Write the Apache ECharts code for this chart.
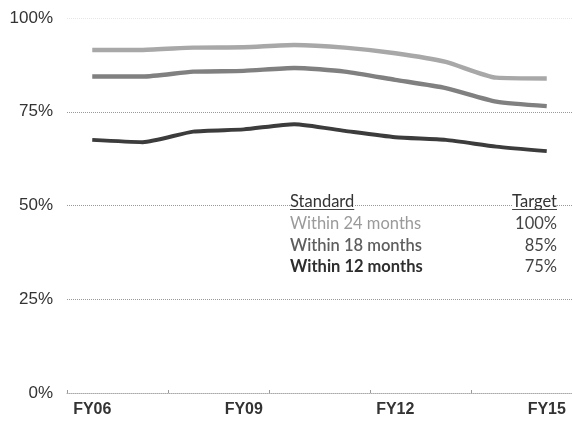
<!DOCTYPE html>
<html>
<head>
<meta charset="utf-8">
<script src="https://cdn.jsdelivr.net/npm/echarts@6/dist/echarts.min.js"></script>
<style>html,body{margin:0;padding:0;background:#fff}#c{width:572px;height:425px}</style>
</head>
<body>
<div id="c"></div>
<script>
const categories = ['FY06','FY07','FY08','FY09','FY10','FY11','FY12','FY13','FY14','FY15'];
const within24 = [91.5, 91.5, 92.1, 92.2, 92.8, 92.1, 90.6, 88.3, 84.1, 83.9];
const within18 = [84.4, 84.4, 85.7, 85.9, 86.7, 85.7, 83.5, 81.3, 77.7, 76.5];
const within12 = [67.5, 66.9, 69.7, 70.3, 71.7, 69.9, 68.2, 67.5, 65.7, 64.5];
const standards = ['Within 24 months', 'Within 18 months', 'Within 12 months'];
const targets = ['100%', '85%', '75%'];
const headers = ['Standard', 'Target'];

const chart = echarts.init(document.getElementById('c'), null, {renderer: 'canvas'});

const rowColors = ['#9a9a9a', '#5e5e5e', '#2e2e2e'];
const rowWeights = ['normal', '600', 'bold'];
const legendFont = 'Lato, "Open Sans", sans-serif';
const headFont = '16.5px ' + legendFont;
const colLeft = 290, colRight = 557, headY = 203, rowY = [225, 247, 268];

const mctx = document.createElement('canvas').getContext('2d');
mctx.font = headFont;
const wStd = mctx.measureText(headers[0]).width;
const wTgt = mctx.measureText(headers[1]).width;

const graphics = [
  {type: 'text', left: colLeft, top: headY - 10, z: 10,
   style: {text: headers[0], font: headFont, fill: '#333', backgroundColor: '#fff'}},
  {type: 'text', left: colRight - wTgt, top: headY - 10, z: 10,
   style: {text: headers[1], font: headFont, fill: '#333', backgroundColor: '#fff'}},
  {type: 'line', z: 11, shape: {x1: colLeft, y1: headY + 6.5, x2: colLeft + wStd, y2: headY + 6.5}, style: {stroke: '#444', lineWidth: 1}},
  {type: 'line', z: 11, shape: {x1: colRight - wTgt, y1: headY + 6.5, x2: colRight, y2: headY + 6.5}, style: {stroke: '#444', lineWidth: 1}}
];
standards.forEach((s, i) => {
  const f = rowWeights[i] + ' 16.5px ' + legendFont;
  graphics.push({type: 'text', left: colLeft, top: rowY[i] - 10, z: 10,
    style: {text: s, font: f, fill: rowColors[i]}});
  mctx.font = '16.5px ' + legendFont;
  const wt = mctx.measureText(targets[i]).width;
  graphics.push({type: 'text', left: colRight - wt, top: rowY[i] - 10, z: 10,
    style: {text: targets[i], font: '16.5px ' + legendFont, fill: '#444'}});
});

chart.setOption({
  animation: false,
  backgroundColor: '#fff',
  grid: {left: 67, right: 0, top: 18, bottom: 32},
  xAxis: {
    type: 'category',
    data: categories,
    boundaryGap: true,
    axisLine: {lineStyle: {color: '#aaa', width: 1, type: 'dotted'}},
    axisTick: {show: true, inside: true, length: 3, interval: (i) => i % 2 === 0, lineStyle: {color: '#999'}},
    axisLabel: {interval: 2, color: '#333', fontSize: 16, fontWeight: 'bold', fontFamily: '"Liberation Sans", Arial, sans-serif', margin: 9}
  },
  yAxis: {
    type: 'value',
    min: 0, max: 100, interval: 25,
    axisLine: {show: false},
    axisTick: {show: false},
    axisLabel: {formatter: '{value}%', color: '#333', fontSize: 17, fontFamily: '"Liberation Sans", Arial, sans-serif', margin: 14},
    splitLine: {lineStyle: {color: ['#ffffff', '#999', '#999', '#999', '#e6e6e6'], type: 'dotted', width: 1}}
  },
  graphic: graphics,
  series: [
    {name: standards[0], type: 'line', data: within24, symbol: 'none', smooth: 0.2,
     lineStyle: {color: '#a8a8a8', width: 4.5}},
    {name: standards[1], type: 'line', data: within18, symbol: 'none', smooth: 0.2,
     lineStyle: {color: '#808080', width: 4.5}},
    {name: standards[2], type: 'line', data: within12, symbol: 'none', smooth: 0.2,
     lineStyle: {color: '#3c3c3c', width: 4}}
  ]
});
</script>
</body>
</html>
